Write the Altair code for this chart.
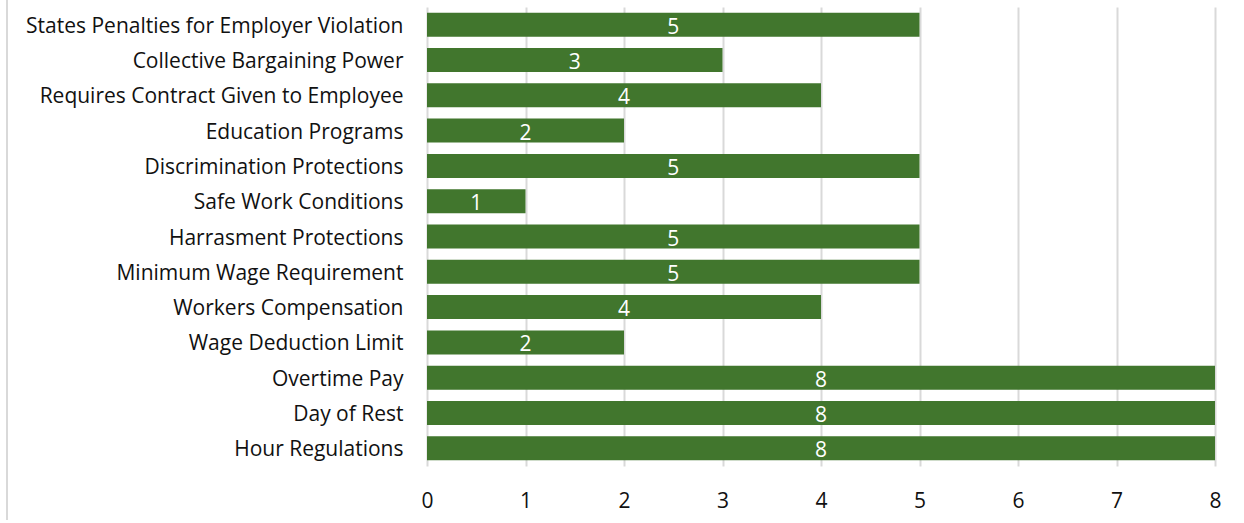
import altair as alt
import pandas as pd

# Labour protections and the number of states that provide each one
categories = [
    "States Penalties for Employer Violation",
    "Collective Bargaining Power",
    "Requires Contract Given to Employee",
    "Education Programs",
    "Discrimination Protections",
    "Safe Work Conditions",
    "Harrasment Protections",
    "Minimum Wage Requirement",
    "Workers Compensation",
    "Wage Deduction Limit",
    "Overtime Pay\u00a0",
    "Day of Rest",
    "Hour Regulations",
]
counts = [5, 3, 4, 2, 5, 1, 5, 5, 4, 2, 8, 8, 8]
x_ticks = [0, 1, 2, 3, 4, 5, 6, 7, 8]

df = pd.DataFrame({"category": categories, "count": counts})

FONT = "Open Sans"
FSIZE = 21
GREEN = "#41762D"

y_enc = alt.Y(
    "category:N",
    sort=categories,
    title=None,
    scale=alt.Scale(paddingInner=0.32, paddingOuter=0.16),
    axis=alt.Axis(
        labelFontSize=FSIZE,
        labelColor="#111111",
        labelFont=FONT,
        labelPadding=24,
        labelOffset=2,
        ticks=False,
        domain=False,
        grid=False,
        labelLimit=500,
    ),
)

x_enc = alt.X(
    "count:Q",
    title=None,
    scale=alt.Scale(domain=[0, 8], nice=False),
    axis=alt.Axis(
        values=x_ticks,
        labelFontSize=FSIZE,
        labelColor="#111111",
        labelFont=FONT,
        labelPadding=24,
        labelFlush=False,
        ticks=False,
        domain=False,
        grid=True,
        gridColor="#D9D9D9",
        gridWidth=2,
        format="d",
    ),
)

bars = alt.Chart(df).mark_bar(color=GREEN).encode(x=x_enc, y=y_enc)

labels = (
    alt.Chart(df)
    .transform_calculate(mid="datum.count / 2")
    .mark_text(color="white", fontSize=FSIZE, font=FONT, align="center", baseline="middle", dy=3)
    .encode(x=alt.X("mid:Q"), y=alt.Y("category:N", sort=categories), text=alt.Text("count:Q"))
)

# thin frame edge on the left side of the figure
frame = alt.Chart(df).mark_rule(color="#D9D9D9", strokeWidth=2).encode(
    x=alt.value(-420), y=alt.value(-7), y2=alt.value(513)
)

chart = (
    alt.layer(frame, bars, labels)
    .properties(
        width=788,
        height=459,
        padding={"left": 427, "top": 7, "right": 29, "bottom": 57},
        autosize=alt.AutoSizeParams(type="none"),
        background="white",
    )
    .configure_view(stroke=None)
)

chart.save("out.html", embed_options={"renderer": "svg", "actions": False})
